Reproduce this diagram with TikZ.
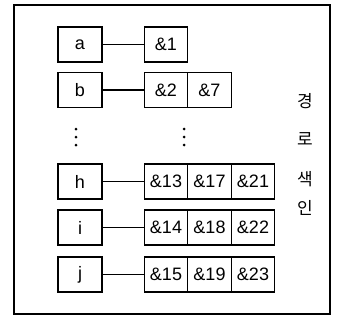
\documentclass[tikz,border=0pt]{standalone}
\usepackage{fontspec}
\setmainfont{Liberation Sans}
\newfontfamily\kofont{Noto Sans CJK KR}
\begin{document}
\begin{tikzpicture}[x=1pt,y=-1pt,
  keybox/.style={draw,line width=1.1pt,minimum width=44pt,minimum height=35pt,inner sep=0pt,font=\fontsize{18}{20}\selectfont},
  cellbox/.style={draw,line width=1.1pt,minimum width=43.5pt,minimum height=35pt,inner sep=0pt,font=\fontsize{18}{20}\selectfont},
  link/.style={line width=1.1pt},
  kolabel/.style={font=\kofont\fontsize{17}{19}\selectfont,inner sep=0pt}]
\useasboundingbox (0,0) rectangle (343,324);
\draw[line width=1.4pt] (14,5) rectangle (330,314);
% rows
\node[keybox] (a) at (80,44.5) {a};
\node[cellbox] (c1) at (166,44.5) {\&1};
\draw[link] (a) -- (c1);

\node[keybox] (b) at (80,90) {b};
\node[cellbox] (c2) at (166,90) {\&2};
\node[cellbox] (c7) at (209.5,90) {\&7};
\draw[link] (b) -- (c2);

\node[keybox] (h) at (80,181.5) {h};
\node[cellbox] (c13) at (166,181.5) {\&13};
\node[cellbox] (c17) at (209.5,181.5) {\&17};
\node[cellbox] (c21) at (253,181.5) {\&21};
\draw[link] (h) -- (c13);

\node[keybox] (i) at (80,227.5) {i};
\node[cellbox] (c14) at (166,227.5) {\&14};
\node[cellbox] (c18) at (209.5,227.5) {\&18};
\node[cellbox] (c22) at (253,227.5) {\&22};
\draw[link] (i) -- (c14);

\node[keybox] (j) at (80,274.5) {j};
\node[cellbox] (c15) at (166,274.5) {\&15};
\node[cellbox] (c19) at (209.5,274.5) {\&19};
\node[cellbox] (c23) at (253,274.5) {\&23};
\draw[link] (j) -- (c15);

% vertical dots
\foreach \yy in {129,137,145} {
  \fill (76,\yy) circle (1.5pt);
  \fill (184,\yy) circle (1.5pt);
}
% Korean vertical label
\node[kolabel] (k1) at (305,101) {경};
\node[kolabel] (k2) at (305,139) {로};
\node[kolabel] (k3) at (305,179) {색};
\node[kolabel] (k4) at (305,208) {인};
\end{tikzpicture}
\end{document}
